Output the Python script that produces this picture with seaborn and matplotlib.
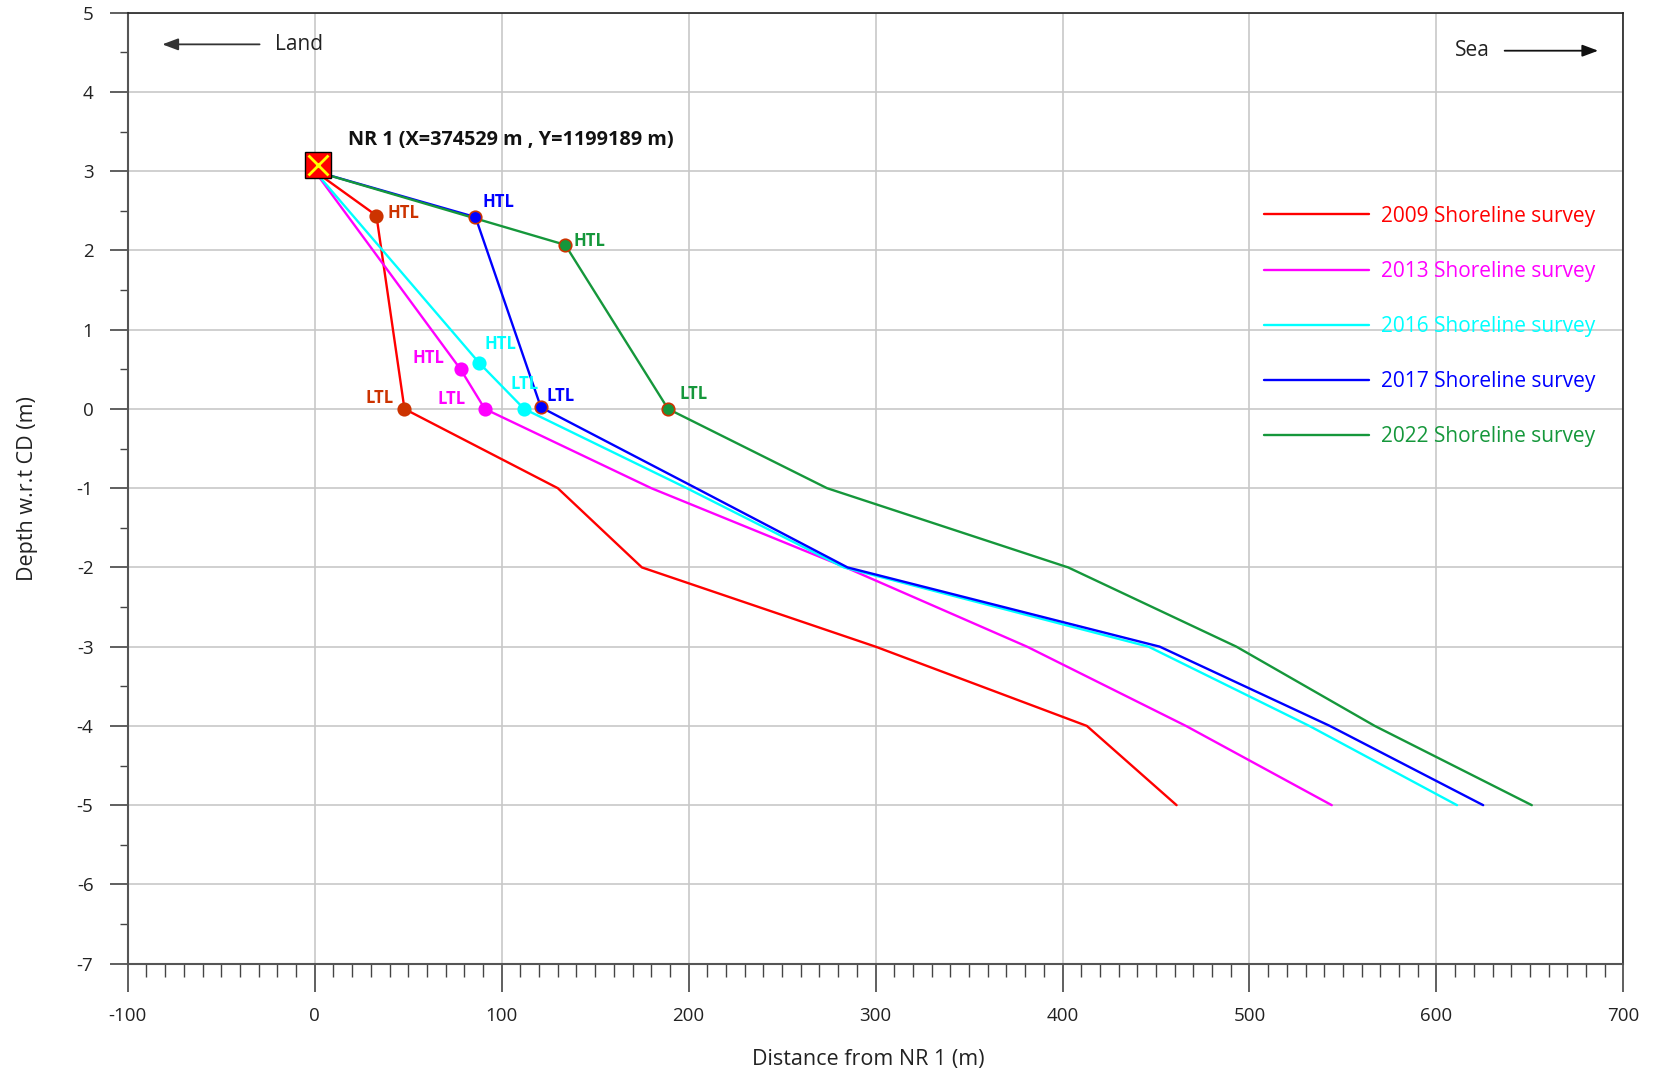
import matplotlib
matplotlib.use("Agg")
import matplotlib.pyplot as plt
from matplotlib.ticker import MultipleLocator
import pandas as pd
import seaborn as sns

# beach profiles from NR 1, distance (m) vs depth w.r.t CD (m)
years = ["2009", "2013", "2016", "2017", "2022"]
dist_2009 = [0, 33, 48, 130, 175, 300, 413, 461]
depth_2009 = [3, 2.44, 0, -1, -2, -3, -4, -5]
dist_2013 = [0, 78, 91, 180, 284, 381, 466, 544]
depth_2013 = [3, 0.5, 0, -1, -2, -3, -4, -5]
dist_2016 = [0, 88, 112, 199, 283, 446, 532, 611]
depth_2016 = [3, 0.58, 0, -1, -2, -3, -4, -5]
dist_2017 = [0, 86, 121, 204, 285, 452, 543, 625]
depth_2017 = [3, 2.42, 0.02, -1, -2, -3, -4, -5]
dist_2022 = [0, 134, 189, 274, 403, 493, 567, 651]
depth_2022 = [3, 2.07, 0, -1, -2, -3, -4, -5]

# HTL is the 2nd point of each profile, LTL the 3rd
htl_idx = 1
ltl_idx = 2

line_colors = ["#ff0000", "#ff00ff", "#00ffff", "#0000ff", "#15973b"]
dot_colors = ["#cc3300", "#ff00ff", "#00ffff", "#0000ff", "#15973b"]
dot_edges = ["#cc3300", "#ff00ff", "#00ffff", "#cc3300", "#cc3300"]
label_colors = ["#cc3300", "#ff00ff", "#00ffff", "#0000ff", "#15973b"]

# offsets (points) for HTL / LTL labels
htl_off = [(8, 2, "left"), (-12, 8, "right"), (4, 14, "left"), (5, 11, "left"), (6, 3, "left")]
ltl_off = [(-8, 8, "right"), (-14, 7, "right"), (-10, 18, "left"), (4, 8, "left"), (8, 11, "left")]

dists = [dist_2009, dist_2013, dist_2016, dist_2017, dist_2022]
depths = [depth_2009, depth_2013, depth_2016, depth_2017, depth_2022]

frames = []
for yr, d, z in zip(years, dists, depths):
    frames.append(pd.DataFrame({"dist": d, "depth": z, "year": yr + " Shoreline survey"}))
df = pd.concat(frames, ignore_index=True)

sns.set_theme(style="white")
plt.rcParams["font.family"] = ["Open Sans", "DejaVu Sans"]
plt.rcParams["axes.unicode_minus"] = False

fig = plt.figure(figsize=(16.55, 10.73), dpi=100)
ax = fig.add_axes([0.0772, 0.1019, 0.9037, 0.8863])

sns.lineplot(data=df, x="dist", y="depth", hue="year", palette=line_colors,
             sort=False, estimator=None, linewidth=1.7, ax=ax, zorder=3)

for i in range(len(years)):
    for idx, off, tag in [(htl_idx, htl_off[i], "HTL"), (ltl_idx, ltl_off[i], "LTL")]:
        x, y = dists[i][idx], depths[i][idx]
        ax.plot(x, y, "o", ms=9, color=dot_colors[i], mec=dot_edges[i], mew=1.2, zorder=4)
        ax.annotate(tag, (x, y), xytext=(off[0], off[1]), textcoords="offset points",
                    ha=off[2], va="center", fontsize=12, fontweight="bold",
                    color=label_colors[i], zorder=5)

# NR 1 reference point
ax.plot(1.5, 3.08, "s", ms=19, color="#ff0000", mec="black", mew=1, zorder=6)
ax.plot(1.5, 3.08, "x", ms=15, color="#ffff00", mew=2, zorder=7)
ax.text(18, 3.39, "NR 1 (X=374529 m , Y=1199189 m)", fontsize=14.3, fontweight="bold",
        va="center", ha="left", color="#111111")

# land / sea arrows
ax.annotate("", xy=(-83, 4.6), xytext=(-28, 4.6),
            arrowprops=dict(arrowstyle="-|>,head_length=0.8,head_width=0.3", color="#333333", lw=1.3))
ax.text(-21.5, 4.6, "Land", fontsize=15, va="center", ha="left", color="#222222")
ax.annotate("", xy=(688, 4.52), xytext=(635, 4.52),
            arrowprops=dict(arrowstyle="-|>,head_length=0.8,head_width=0.3", color="#111111", lw=1.3))
ax.text(610, 4.52, "Sea", fontsize=15, va="center", ha="left", color="#222222")

ax.set_xlim(-100, 700)
ax.set_ylim(-7, 5)
ax.xaxis.set_major_locator(MultipleLocator(100))
ax.xaxis.set_minor_locator(MultipleLocator(10))
ax.yaxis.set_major_locator(MultipleLocator(1))
ax.yaxis.set_minor_locator(MultipleLocator(0.5))
ax.grid(True, which="major", color="#c8c8c8", linewidth=1.2)
ax.set_axisbelow(True)

ax.tick_params(axis="x", which="major", direction="out", length=20, width=1.2,
               color="#444444", pad=11, labelsize=13.5, labelcolor="#222222", bottom=True)
ax.tick_params(axis="x", which="minor", direction="out", length=9, width=1,
               color="#444444", bottom=True)
ax.tick_params(axis="y", which="major", direction="out", length=12.7, width=1.2,
               color="#444444", pad=12, labelsize=13.5, labelcolor="#222222", left=True)
ax.tick_params(axis="y", which="minor", direction="out", length=5.5, width=1,
               color="#444444", left=True)

for side in ["left", "bottom"]:
    ax.spines[side].set_color("#555555")
    ax.spines[side].set_linewidth(1.5)
for side in ["top", "right"]:
    ax.spines[side].set_color("#222222")
    ax.spines[side].set_linewidth(1.2)

ax.set_xlabel("Distance from NR 1 (m)", fontsize=15.5, color="#222222")
ax.set_ylabel("Depth w.r.t CD (m)", fontsize=15.5, color="#222222")
ax.xaxis.set_label_coords(0.495, -0.09)
ax.yaxis.set_label_coords(-0.06, 0.5)

handles, labels = ax.get_legend_handles_labels()
ax.legend(handles, labels, loc="upper left", bbox_to_anchor=(0.760, 0.797),
          frameon=False, fontsize=15, handlelength=5.0, handletextpad=0.6,
          labelspacing=1.64, borderpad=0, borderaxespad=0, labelcolor="linecolor")

fig.savefig("out.png", dpi=100)
